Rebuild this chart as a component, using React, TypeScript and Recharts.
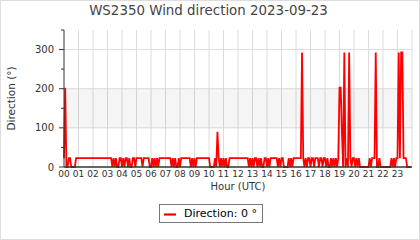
import React from 'react';
import { LineChart, Line, XAxis, YAxis, CartesianGrid, ReferenceArea, Legend } from 'recharts';

const title = 'WS2350 Wind direction 2023-09-23';
const seriesName = 'Direction';
const unit = '°';
const hourLabels = ['00','01','02','03','04','05','06','07','08','09','10','11','12','13','14','15','16','17','18','19','20','21','22','23'];
const hourTicks = [0,1,2,3,4,5,6,7,8,9,10,11,12,13,14,15,16,17,18,19,20,21,22,23];
const gridHours = [1,2,3,4,5,6,7,8,9,10,11,12,13,14,15,16,17,18,19,20,21,22,23,24];
const yTicks = [0,50,100,150,200,250,300,350];
const yGrid = [100,200,300];
const band = [100, 200];

// wind direction (degrees), 5-minute samples, one row per hour
const directionByHour: number[][] = [
  [22.5, 202.5, 0, 0, 22.5, 22.5, 0, 0, 0, 0, 22.5, 22.5],
  [22.5, 22.5, 22.5, 22.5, 22.5, 22.5, 22.5, 22.5, 22.5, 22.5, 22.5, 22.5],
  [22.5, 22.5, 22.5, 22.5, 22.5, 22.5, 22.5, 22.5, 22.5, 22.5, 22.5, 22.5],
  [22.5, 22.5, 22.5, 22.5, 0, 22.5, 0, 22.5, 0, 0, 22.5, 22.5],
  [0, 22.5, 0, 22.5, 22.5, 0, 22.5, 0, 0, 22.5, 22.5, 0],
  [22.5, 22.5, 22.5, 22.5, 22.5, 0, 22.5, 22.5, 22.5, 22.5, 22.5, 0],
  [0, 22.5, 0, 22.5, 0, 22.5, 0, 22.5, 22.5, 22.5, 22.5, 22.5],
  [22.5, 22.5, 22.5, 22.5, 22.5, 0, 22.5, 0, 22.5, 0, 0, 22.5],
  [0, 22.5, 22.5, 22.5, 22.5, 22.5, 22.5, 22.5, 22.5, 0, 22.5, 0],
  [22.5, 0, 22.5, 22.5, 22.5, 22.5, 22.5, 22.5, 22.5, 22.5, 22.5, 22.5],
  [22.5, 0, 0, 0, 0, 22.5, 0, 90, 22.5, 0, 22.5, 0],
  [22.5, 0, 22.5, 0, 0, 22.5, 22.5, 22.5, 22.5, 22.5, 22.5, 22.5],
  [22.5, 22.5, 22.5, 22.5, 22.5, 22.5, 22.5, 22.5, 22.5, 0, 22.5, 0],
  [22.5, 0, 22.5, 22.5, 0, 22.5, 0, 22.5, 0, 0, 22.5, 22.5],
  [0, 22.5, 0, 22.5, 22.5, 22.5, 22.5, 22.5, 22.5, 0, 22.5, 0],
  [22.5, 22.5, 0, 0, 0, 0, 22.5, 0, 22.5, 0, 22.5, 22.5],
  [22.5, 22.5, 22.5, 22.5, 22.5, 292.5, 22.5, 0, 22.5, 0, 22.5, 22.5],
  [0, 22.5, 22.5, 0, 22.5, 22.5, 22.5, 0, 22.5, 22.5, 0, 22.5],
  [22.5, 0, 22.5, 0, 0, 22.5, 0, 22.5, 0, 22.5, 0, 22.5],
  [202.5, 202.5, 90, 0, 292.5, 0, 22.5, 0, 292.5, 22.5, 0, 22.5],
  [22.5, 0, 22.5, 0, 22.5, 0, 0, 0, 0, 0, 0, 0],
  [0, 22.5, 0, 22.5, 22.5, 22.5, 292.5, 0, 0, 22.5, 0, 0],
  [0, 0, 0, 0, 0, 0, 0, 22.5, 0, 22.5, 0, 22.5],
  [22.5, 292.5, 22.5, 292.5, 292.5, 22.5, 22.5, 22.5, 0, 0, 0, 0],
];

const data = directionByHour.flatMap((row, h) =>
  row.map((v, k) => ({ hour: h + k / 12, direction: v }))
);
const lastValue = data[data.length - 1].direction;

const FONT = '"DejaVu Sans", sans-serif';

const YTick = (props: any) => {
  const { x, y, payload } = props;
  const v = payload.value as number;
  const major = v % 100 === 0;
  return (
    <g>
      <line x1={x} x2={x - (major ? 5 : 3)} y1={y} y2={y} stroke="#333" strokeWidth={1} />
      {major && (
        <text x={x - 10} y={y} dy="0.36em" textAnchor="end" fontSize={10} fill="#333" fontFamily={FONT}>
          {v}
        </text>
      )}
    </g>
  );
};

const LegendBox = () => (
  <div
    style={{
      width: 104,
      height: 19,
      boxSizing: 'border-box',
      border: '1px solid #777',
      display: 'flex',
      alignItems: 'center',
      fontFamily: FONT,
      fontSize: 11,
      color: '#000',
      background: '#fff',
    }}
  >
    <svg width={24} height={17} style={{ display: 'block' }}>
      <line x1={4} x2={16} y1={9.5} y2={9.5} stroke="#ff0000" strokeWidth={2.2} />
    </svg>
    <span style={{ whiteSpace: 'nowrap' }}>{`${seriesName}: ${lastValue} ${unit}`}</span>
  </div>
);

export default function App() {
  return (
    <div style={{ position: 'absolute', left: 0, top: 0, width: 420, height: 240, background: '#fff', fontFamily: FONT }}>
      <div
        style={{
          position: 'absolute',
          left: 0,
          top: 3,
          width: 417,
          textAlign: 'center',
          fontSize: 13.4,
          color: '#444',
          fontFamily: FONT,
          lineHeight: '16px',
        }}
      >
        {title}
      </div>
      <LineChart width={420} height={240} data={data} margin={{ top: 30, right: 8, bottom: 43, left: 0 }}>
        <ReferenceArea y1={band[0]} y2={band[1]} fill="#000" fillOpacity={0.04} stroke="none" ifOverflow="hidden" />
        <CartesianGrid stroke="#dcdcdc" horizontalValues={yGrid} verticalValues={gridHours} />
        <XAxis
          dataKey="hour"
          type="number"
          domain={[0, 24]}
          ticks={hourTicks}
          interval={0}
          tickFormatter={(v: number) => hourLabels[v]}
          tickLine={false}
          tickSize={0}
          tickMargin={4}
          height={30}
          axisLine={{ stroke: '#333', strokeWidth: 1.5 }}
          tick={{ fontSize: 9, fill: '#333' }}
          label={{ value: 'Hour (UTC)', position: 'insideBottom', offset: 7, style: { fontSize: 10, fill: '#333' } }}
        />
        <YAxis
          type="number"
          domain={[0, 350]}
          ticks={yTicks}
          interval={0}
          width={64}
          tickLine={false}
          tickSize={0}
          tickMargin={0}
          axisLine={{ stroke: '#333' }}
          tick={<YTick />}
          label={{
            value: 'Direction (°)',
            angle: -90,
            position: 'insideLeft',
            offset: 11,
            style: { textAnchor: 'middle', fontSize: 10.5, fill: '#333' },
          }}
        />
        <Line
          type="linear"
          dataKey="direction"
          name={seriesName}
          stroke="#ff0000"
          strokeWidth={1.8}
          dot={false}
          isAnimationActive={false}
        />
        <Legend
          layout="horizontal"
          verticalAlign="middle"
          align="center"
          wrapperStyle={{ left: 159, top: 204, width: 104, height: 19 }}
          content={<LegendBox />}
        />
      </LineChart>
      <div
        style={{
          position: 'absolute',
          left: 0,
          top: 0,
          width: 420,
          height: 240,
          boxSizing: 'border-box',
          border: '1px solid #ddd',
          pointerEvents: 'none',
        }}
      />
    </div>
  );
}
